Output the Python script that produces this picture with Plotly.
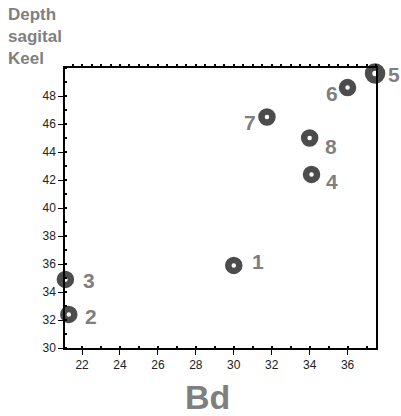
import plotly.graph_objects as go

# ---- data ----
labels = ["1", "2", "3", "4", "5", "6", "7", "8"]
bd = [30.0, 21.3, 21.12, 34.1, 37.45, 36.0, 31.75, 34.0]
depth = [35.9, 32.4, 34.9, 42.4, 49.6, 48.6, 46.5, 45.0]
x_ticks = [22, 24, 26, 28, 30, 32, 34, 36]
y_ticks = [30, 32, 34, 36, 38, 40, 42, 44, 46, 48]

# ---- styles ----
label_offsets = {  # pixel offsets of point labels
    "1": (24, 4), "2": (22, -2), "3": (24, -1), "4": (20, -7),
    "5": (19, -1), "6": (-16, -6), "7": (-17, -5), "8": (21, -8),
}
marker_sizes = [11, 11, 11, 11, 13, 11, 11, 11]
marker_lw = [6.5, 6.5, 6.5, 6.5, 7.5, 6.5, 6.5, 6.5]
GRAY = "#7f7f7f"
FONT = "Liberation Sans, Arial, sans-serif"

fig = go.Figure()
fig.add_trace(go.Scatter(
    x=bd, y=depth, mode="markers",
    marker=dict(symbol="circle-open", size=marker_sizes, color="black",
                line=dict(width=marker_lw, color="black")),
    cliponaxis=False, hoverinfo="skip", showlegend=False,
))
# invisible trace to activate top axis
fig.add_trace(go.Scatter(x=bd, y=depth, xaxis="x2", mode="markers",
                         marker=dict(opacity=0), hoverinfo="skip", showlegend=False))

for lab, xv, yv in zip(labels, bd, depth):
    dx, dy = label_offsets[lab]
    fig.add_annotation(x=xv, y=yv, text=f"<b>{lab}</b>", showarrow=False,
                       xshift=dx, yshift=dy, xanchor="center", yanchor="middle",
                       font=dict(family=FONT, size=21, color=GRAY))

fig.add_annotation(xref="paper", yref="paper", x=0.457, y=-0.175,
                   xanchor="center", yanchor="middle",
                   text="<b>Bd</b>", showarrow=False,
                   font=dict(family=FONT, size=34, color=GRAY))
fig.add_annotation(xref="paper", yref="paper", x=-0.19, y=1.232,
                   xanchor="left", yanchor="top", align="left",
                   text="<b>Depth<br>sagital<br>Keel</b>", showarrow=False,
                   font=dict(family=FONT, size=17, color=GRAY))

axis_common = dict(showgrid=False, zeroline=False, showline=True,
                   linecolor="black", linewidth=1.5, ticks="outside",
                   ticklen=5, tickwidth=1, tickcolor="black",
                   tickfont=dict(family=FONT, size=12, color="#222"))

fig.update_layout(
    width=401, height=416,
    margin=dict(l=65, r=25, t=68, b=68),
    paper_bgcolor="white", plot_bgcolor="white",
    xaxis=dict(range=[21.1, 37.5], tickvals=x_ticks, mirror=False,
               minor=dict(dtick=1, tick0=21, ticks="inside", ticklen=2,
                          tickcolor="black", tickwidth=2),
               **axis_common),
    xaxis2=dict(range=[21.1, 37.5], overlaying="x", side="top", anchor="y",
                showgrid=False, zeroline=False, showline=True,
                linecolor="black", linewidth=1.5, ticks="outside",
                ticklen=2, tickwidth=1.5, tickcolor="black", dtick=0.5, tick0=21,
                showticklabels=False),
    yaxis=dict(range=[30, 50], tickvals=y_ticks, mirror=True,
               minor=dict(dtick=1, tick0=31, ticks="inside", ticklen=2,
                          tickcolor="black", tickwidth=2),
               **axis_common),
)

fig.write_html(
    "out.html",
    config={"displayModeBar": False},
    post_script="document.body.style.margin='0';document.body.style.overflow='hidden';",
)
